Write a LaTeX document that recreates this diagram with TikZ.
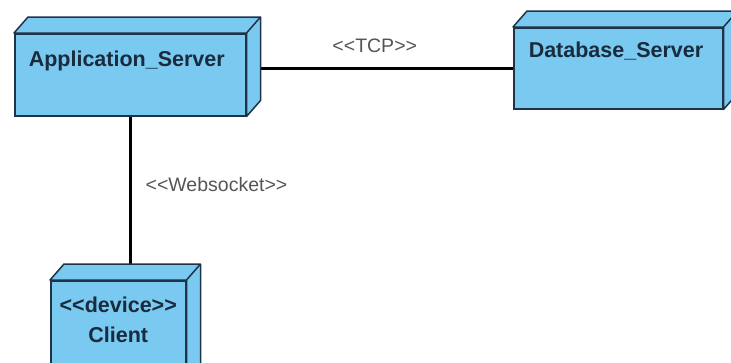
\documentclass[tikz,border=0pt]{standalone}
\usepackage{fontspec}
\setmainfont{Liberation Sans}
\usetikzlibrary{calc, positioning}
\definecolor{nodefill}{RGB}{122,201,240}
\definecolor{nodeline}{RGB}{30,50,72}
\definecolor{labelgray}{RGB}{85,85,85}

\begin{document}
\begin{tikzpicture}[x=1pt, y=-1pt,
    deploy/.style={draw=nodeline, fill=nodefill, line width=1.5pt, anchor=north west, font=\fontsize{21.5}{30}\selectfont\bfseries, text=nodeline!85!black},
    face/.style={draw=nodeline, fill=nodefill, line width=1.5pt, line join=round},
    link/.style={line width=2.8pt, black},
    stereo/.style={font=\fontsize{19.5}{22}\selectfont, text=labelgray, inner sep=2pt}
]
\def\dx{14}
\def\dy{-16}

\useasboundingbox (0,0) rectangle (731,362);

% Front faces of the deployment nodes
\node[deploy, text width=203pt, align=left, inner xsep=14pt, inner ysep=18pt, text height=15pt, text depth=31pt] (app) at (14,33) {Application\_Server};
\node[deploy, text width=179pt, align=left, inner xsep=15pt, inner ysep=15pt, text height=15pt, text depth=36pt] (db) at (513,27) {Database\_Server};
\node[deploy, text width=135pt, align=center, inner xsep=0pt, inner ysep=16pt, text height=16pt, text depth=60pt] (client) at (50,280) {<{}<device>{}>\\Client};

% Links
\draw[link] (db.west -| app.east) -- node[stereo, above=12pt, xshift=-5pt] (tcp) {<{}<TCP>{}>} (db.west);
\draw[link] (app.south) -- node[stereo, right=12pt, yshift=14pt] (ws) {<{}<Websocket>{}>} (app.south |- client.north);

% Top and side faces
\foreach \n in {app, db, client} {
    \draw[face] (\n.north west) -- ++(\dx,\dy) -- ($(\n.north east)+(\dx,\dy)$) -- ($(\n.south east)+(\dx,\dy)$) -- (\n.south east) -- (\n.north east) -- cycle;
    \draw[face] (\n.north east) -- ++(\dx,\dy);
}

\end{tikzpicture}
\end{document}
